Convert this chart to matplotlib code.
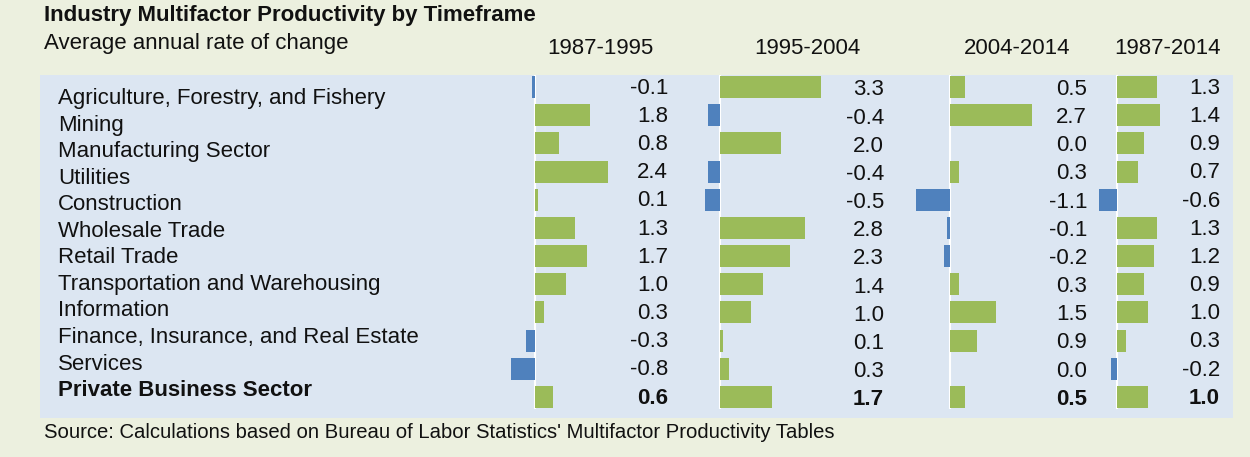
import matplotlib
matplotlib.use("Agg")
import matplotlib.pyplot as plt
from matplotlib.transforms import blended_transform_factory

plt.rcParams['font.family'] = ['Liberation Sans', 'DejaVu Sans']

industries = ["Agriculture, Forestry, and Fishery", "Mining", "Manufacturing Sector",
              "Utilities", "Construction", "Wholesale Trade", "Retail Trade",
              "Transportation and Warehousing", "Information",
              "Finance, Insurance, and Real Estate", "Services", "Private Business Sector"]
periods = ["1987-1995", "1995-2004", "2004-2014", "1987-2014"]
v_1987_1995 = [-0.1, 1.8, 0.8, 2.4, 0.1, 1.3, 1.7, 1.0, 0.3, -0.3, -0.8, 0.6]
v_1995_2004 = [3.3, -0.4, 2.0, -0.4, -0.5, 2.8, 2.3, 1.4, 1.0, 0.1, 0.3, 1.7]
v_2004_2014 = [0.5, 2.7, 0.0, 0.3, -1.1, -0.1, -0.2, 0.3, 1.5, 0.9, 0.0, 0.5]
v_1987_2014 = [1.3, 1.4, 0.9, 0.7, -0.6, 1.3, 1.2, 0.9, 1.0, 0.3, -0.2, 1.0]
series = [v_1987_1995, v_1995_2004, v_2004_2014, v_1987_2014]

W, H = 1250, 457
fig = plt.figure(figsize=(W / 100, H / 100), dpi=100)
fig.patch.set_facecolor('#ECF0DF')

def fx(px):
    return px / W

def fy(py):
    return 1 - py / H

# blue panel as a background axes
bg = fig.add_axes([fx(40), fy(418), fx(1233) - fx(40), fy(75) - fy(418)], zorder=-5)
bg.set_facecolor('#DCE6F2')
bg.set_xticks([]); bg.set_yticks([])
for s in bg.spines.values():
    s.set_visible(False)

GREEN = '#9BBB59'
BLUE = '#4F81BD'
TXT = '#111111'
PPU = 30.5  # pixels per unit
top_px, bot_px = 73, 411
panels = [  # (left px, right px, zero px, value right px, header center px, value y offset)
    (495, 690, 535, 668, 600, 0.04),
    (690, 895, 720, 884, 807, 0.10),
    (900, 1095, 950, 1087, 1017, 0.08),
    (1095, 1230, 1117, 1220, 1168, 0.05),
]

n = len(industries)
for (L, R, Z, VX, HX, DY), vals, per in zip(panels, series, periods):
    ax = fig.add_axes([fx(L), fy(bot_px), fx(R) - fx(L), fy(top_px) - fy(bot_px)], zorder=1)
    ax.set_facecolor('none')
    ax.set_xlim((L - Z) / PPU, (R - Z) / PPU)
    ax.set_ylim(n - 0.5, -0.5)
    ax.axis('off')
    ys = list(range(n))
    colors = [GREEN if v >= 0 else BLUE for v in vals]
    ax.barh(ys, vals, height=0.78, color=colors, zorder=2)
    ax.vlines(0, -0.42, n - 0.58, color='white', lw=1.5, zorder=1)
    tr = blended_transform_factory(fig.transFigure, ax.transData)
    for i, v in enumerate(vals):
        ax.text(fx(VX), i + DY, f"{v:.1f}", transform=tr, ha='right', va='center',
                fontsize=16, color=TXT,
                fontweight='bold' if i == n - 1 else 'normal')
    fig.text(fx(HX), fy(48), per, ha='center', va='center', fontsize=16, color=TXT)

for i, name in enumerate(industries):
    fig.text(fx(58), fy(98.5 + 26.55 * i), name, ha='left', va='center', fontsize=16,
             color=TXT, fontweight='bold' if i == n - 1 else 'normal')

fig.text(fx(44), fy(16), "Industry Multifactor Productivity by Timeframe", ha='left',
         va='center', fontsize=16, fontweight='bold', color=TXT)
fig.text(fx(44), fy(44), "Average annual rate of change", ha='left', va='center',
         fontsize=16, color=TXT)
fig.text(fx(44), fy(432), "Source: Calculations based on Bureau of Labor Statistics' Multifactor Productivity Tables",
         ha='left', va='center', fontsize=14.6, color=TXT)

fig.savefig("out.png", dpi=100, facecolor=fig.get_facecolor())
